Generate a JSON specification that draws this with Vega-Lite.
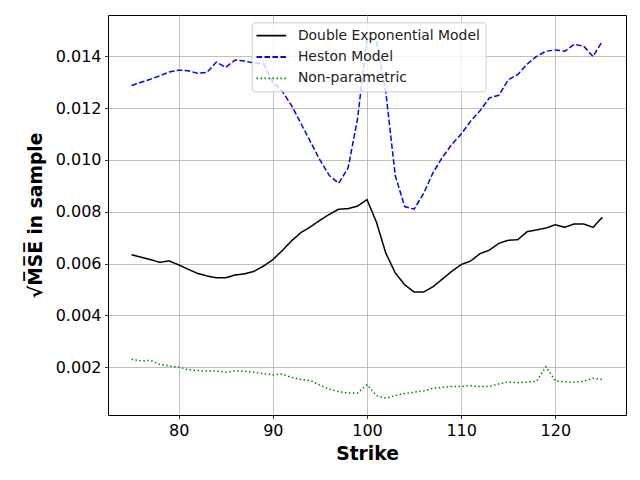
{
  "$schema": "https://vega.github.io/schema/vega-lite/v6.json",
  "width": 518,
  "height": 400,
  "autosize": {"type": "none"},
  "padding": {"left": 108, "top": 15, "right": 14, "bottom": 65},
  "background": "white",
  "data": {
    "values": [
      {"strike": 75, "Double Exponential Model": 0.00634, "Heston Model": 0.01288, "Non-parametric": 0.0023},
      {"strike": 76, "Double Exponential Model": 0.00625, "Heston Model": 0.0130, "Non-parametric": 0.00224},
      {"strike": 77, "Double Exponential Model": 0.00615, "Heston Model": 0.01312, "Non-parametric": 0.00226},
      {"strike": 78, "Double Exponential Model": 0.00605, "Heston Model": 0.01325, "Non-parametric": 0.0021},
      {"strike": 79, "Double Exponential Model": 0.0061, "Heston Model": 0.0134, "Non-parametric": 0.00205},
      {"strike": 80, "Double Exponential Model": 0.00595, "Heston Model": 0.01347, "Non-parametric": 0.002},
      {"strike": 81, "Double Exponential Model": 0.00578, "Heston Model": 0.01345, "Non-parametric": 0.0019},
      {"strike": 82, "Double Exponential Model": 0.00562, "Heston Model": 0.01335, "Non-parametric": 0.00187},
      {"strike": 83, "Double Exponential Model": 0.00552, "Heston Model": 0.01338, "Non-parametric": 0.00185},
      {"strike": 84, "Double Exponential Model": 0.00545, "Heston Model": 0.01378, "Non-parametric": 0.00185},
      {"strike": 85, "Double Exponential Model": 0.00545, "Heston Model": 0.01358, "Non-parametric": 0.0018},
      {"strike": 86, "Double Exponential Model": 0.00556, "Heston Model": 0.01386, "Non-parametric": 0.00186},
      {"strike": 87, "Double Exponential Model": 0.0056, "Heston Model": 0.01382, "Non-parametric": 0.00184},
      {"strike": 88, "Double Exponential Model": 0.0057, "Heston Model": 0.01375, "Non-parametric": 0.0018},
      {"strike": 89, "Double Exponential Model": 0.0059, "Heston Model": 0.01372, "Non-parametric": 0.00175},
      {"strike": 90, "Double Exponential Model": 0.00615, "Heston Model": 0.0130, "Non-parametric": 0.0017},
      {"strike": 91, "Double Exponential Model": 0.0065, "Heston Model": 0.01265, "Non-parametric": 0.00173},
      {"strike": 92, "Double Exponential Model": 0.00688, "Heston Model": 0.0121, "Non-parametric": 0.0016},
      {"strike": 93, "Double Exponential Model": 0.0072, "Heston Model": 0.0114, "Non-parametric": 0.00152},
      {"strike": 94, "Double Exponential Model": 0.00742, "Heston Model": 0.0107, "Non-parametric": 0.00148},
      {"strike": 95, "Double Exponential Model": 0.00767, "Heston Model": 0.0100, "Non-parametric": 0.0013},
      {"strike": 96, "Double Exponential Model": 0.0079, "Heston Model": 0.0094, "Non-parametric": 0.00115},
      {"strike": 97, "Double Exponential Model": 0.0081, "Heston Model": 0.0091, "Non-parametric": 0.00105},
      {"strike": 98, "Double Exponential Model": 0.00812, "Heston Model": 0.0097, "Non-parametric": 0.001},
      {"strike": 99, "Double Exponential Model": 0.00822, "Heston Model": 0.0116, "Non-parametric": 0.001},
      {"strike": 100, "Double Exponential Model": 0.00847, "Heston Model": 0.0147, "Non-parametric": 0.00132},
      {"strike": 101, "Double Exponential Model": 0.0076, "Heston Model": 0.0146, "Non-parametric": 0.0009},
      {"strike": 102, "Double Exponential Model": 0.0064, "Heston Model": 0.0126, "Non-parametric": 0.0008},
      {"strike": 103, "Double Exponential Model": 0.00564, "Heston Model": 0.0094, "Non-parametric": 0.0009},
      {"strike": 104, "Double Exponential Model": 0.00518, "Heston Model": 0.0082, "Non-parametric": 0.00098},
      {"strike": 105, "Double Exponential Model": 0.0049, "Heston Model": 0.0081, "Non-parametric": 0.00103},
      {"strike": 106, "Double Exponential Model": 0.0049, "Heston Model": 0.0087, "Non-parametric": 0.00108},
      {"strike": 107, "Double Exponential Model": 0.0051, "Heston Model": 0.0095, "Non-parametric": 0.00118},
      {"strike": 108, "Double Exponential Model": 0.0054, "Heston Model": 0.0101, "Non-parametric": 0.00122},
      {"strike": 109, "Double Exponential Model": 0.0057, "Heston Model": 0.0106, "Non-parametric": 0.00125},
      {"strike": 110, "Double Exponential Model": 0.00596, "Heston Model": 0.0110, "Non-parametric": 0.00125},
      {"strike": 111, "Double Exponential Model": 0.0061, "Heston Model": 0.0115, "Non-parametric": 0.00128},
      {"strike": 112, "Double Exponential Model": 0.00638, "Heston Model": 0.0119, "Non-parametric": 0.00125},
      {"strike": 113, "Double Exponential Model": 0.00652, "Heston Model": 0.0124, "Non-parametric": 0.00125},
      {"strike": 114, "Double Exponential Model": 0.00678, "Heston Model": 0.0125, "Non-parametric": 0.00135},
      {"strike": 115, "Double Exponential Model": 0.0069, "Heston Model": 0.0131, "Non-parametric": 0.00143},
      {"strike": 116, "Double Exponential Model": 0.00692, "Heston Model": 0.0133, "Non-parametric": 0.0014},
      {"strike": 117, "Double Exponential Model": 0.00723, "Heston Model": 0.0137, "Non-parametric": 0.00142},
      {"strike": 118, "Double Exponential Model": 0.0073, "Heston Model": 0.0140, "Non-parametric": 0.00145},
      {"strike": 119, "Double Exponential Model": 0.00737, "Heston Model": 0.0142, "Non-parametric": 0.00202},
      {"strike": 120, "Double Exponential Model": 0.0075, "Heston Model": 0.01425, "Non-parametric": 0.00147},
      {"strike": 121, "Double Exponential Model": 0.0074, "Heston Model": 0.0142, "Non-parametric": 0.00143},
      {"strike": 122, "Double Exponential Model": 0.00753, "Heston Model": 0.01447, "Non-parametric": 0.00142},
      {"strike": 123, "Double Exponential Model": 0.00753, "Heston Model": 0.0144, "Non-parametric": 0.00145},
      {"strike": 124, "Double Exponential Model": 0.0074, "Heston Model": 0.0140, "Non-parametric": 0.00157},
      {"strike": 125, "Double Exponential Model": 0.00779, "Heston Model": 0.0146, "Non-parametric": 0.00152}
    ]
  },
  "transform": [
    {"fold": ["Double Exponential Model", "Heston Model", "Non-parametric"], "as": ["model", "value"]}
  ],
  "mark": {"type": "line", "strokeWidth": 1.5, "clip": true},
  "encoding": {
    "x": {
      "field": "strike", "type": "quantitative",
      "scale": {"domain": [72.5, 127.5], "nice": false, "zero": false},
      "axis": {"values": [80, 90, 100, 110, 120], "title": "Strike", "titlePadding": 6}
    },
    "y": {
      "field": "value", "type": "quantitative",
      "scale": {"domain": [0.00015, 0.0156], "nice": false, "zero": false},
      "axis": {"values": [0.002, 0.004, 0.006, 0.008, 0.01, 0.012, 0.014], "format": ".3f", "title": "√M̅S̅E̅ in sample", "titlePadding": 10}
    },
    "color": {
      "field": "model", "type": "nominal",
      "scale": {"domain": ["Double Exponential Model", "Heston Model", "Non-parametric"], "range": ["#000000", "#0000ff", "#008000"]},
      "legend": {"title": null}
    },
    "strokeDash": {
      "field": "model", "type": "nominal",
      "scale": {"domain": ["Double Exponential Model", "Heston Model", "Non-parametric"], "range": [[1, 0], [5.55, 2.4], [1.5, 2.475]]},
      "legend": {"title": null}
    }
  },
  "config": {
    "view": {"stroke": "black", "strokeWidth": 1},
    "axis": {
      "grid": true, "gridColor": "#b0b0b0", "gridWidth": 0.8,
      "domain": false,
      "tickColor": "black", "tickSize": 3.5, "tickWidth": 0.8,
      "labelFont": "DejaVu Sans", "labelFontSize": 16, "labelColor": "black", "labelPadding": 3.5,
      "titleFont": "DejaVu Sans", "titleFontSize": 18.7, "titleFontWeight": "bold", "titleColor": "black"
    },
    "legend": {
      "orient": "none", "legendX": 143.7, "legendY": 7.3,
      "labelFont": "DejaVu Sans", "labelFontSize": 13.9, "labelColor": "#222222", "labelLimit": 400,
      "symbolType": "M-1.2,0H3", "symbolSize": 200, "symbolStrokeWidth": 1.8, "symbolFillColor": "transparent",
      "rowPadding": 6.4, "padding": 5.3,
      "strokeColor": "#cccccc", "fillColor": "rgba(255,255,255,0.8)", "cornerRadius": 3,
      "labelOffset": 24.9
    }
  }
}
